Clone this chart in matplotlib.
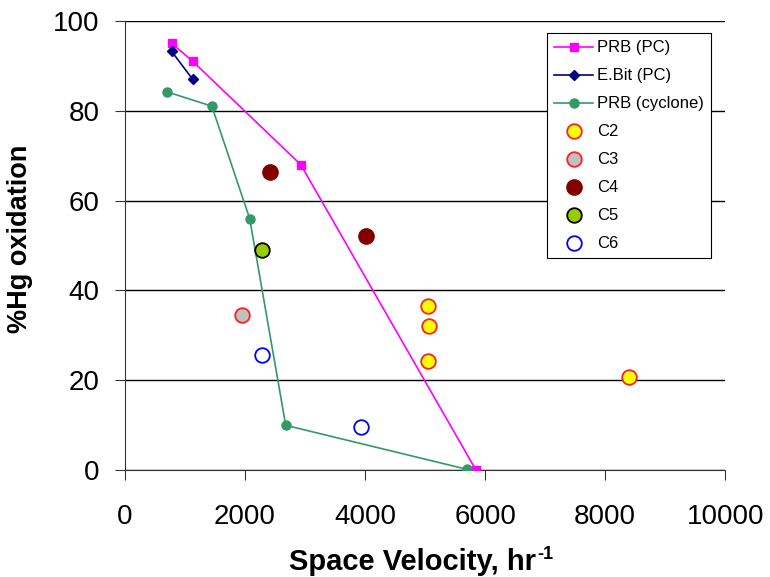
import numpy as np
import matplotlib.pyplot as plt

plt.rcParams['font.family'] = ['Liberation Sans', 'DejaVu Sans']

# PRB (PC)
prb_pc_x = [780, 1130, 2930, 5850]
prb_pc_y = [95, 91, 68, 0]
# E.Bit (PC)
ebit_x = [780, 1130]
ebit_y = [93.2, 87]
# PRB (cyclone)
cyc_x = [700, 1450, 2080, 2680, 5700]
cyc_y = [84.2, 81, 56, 10, 0.2]
# catalyst points
c2_x = [5050, 5070, 5050, 8400]
c2_y = [36.5, 32.2, 24.4, 20.7]
c3_x = [1950]
c3_y = [34.6]
c4_x = [2420, 4020]
c4_y = [66.3, 52.1]
c5_x = [2280]
c5_y = [49]
c6_x = [2280, 3930]
c6_y = [25.7, 9.7]

fig = plt.figure(figsize=(7.7, 5.77), dpi=100)
ax = fig.add_axes([0.162, 0.185, 0.780, 0.779])

ax.plot(prb_pc_x, prb_pc_y, color='#ff00ff', marker='s', markersize=6.3, lw=1.2, label='PRB (PC)', zorder=3)
ax.plot(ebit_x, ebit_y, color='#000080', marker='D', markersize=5, lw=1.2, label='E.Bit (PC)', zorder=3)
ax.plot(cyc_x, cyc_y, color='#339966', marker='o', markersize=6.5, lw=1.2, label='PRB (cyclone)', zorder=3)
ax.plot(c2_x, c2_y, ls='none', marker='o', markersize=10.5, mfc='#ffff00', mec='#ff2020', mew=1.3, label='C2', zorder=4)
ax.plot(c3_x, c3_y, ls='none', marker='o', markersize=10.5, mfc='#c0c0c0', mec='#ff2020', mew=1.3, label='C3', zorder=4)
ax.plot(c4_x, c4_y, ls='none', marker='o', markersize=11, mfc='#800000', mec='#800000', label='C4', zorder=4)
ax.plot(c5_x, c5_y, ls='none', marker='o', markersize=10.5, mfc='#99cc00', mec='#000000', mew=1.3, label='C5', zorder=4)
ax.plot(c6_x, c6_y, ls='none', marker='o', markersize=10.5, mfc='white', mec='#0000ff', mew=1.3, label='C6', zorder=4)

ax.set_xlim(0, 10000)
ax.set_ylim(0, 100)
ax.set_xticks(np.arange(0, 10001, 2000))
ax.set_yticks(np.arange(0, 101, 20))
ax.yaxis.grid(True, color='black', lw=1)
ax.set_axisbelow(True)
for s in ['top', 'right']:
    ax.spines[s].set_visible(False)
ax.spines['left'].set_color('#333333')
ax.spines['bottom'].set_color('#333333')
ax.tick_params(direction='out', labelsize=20, length=7, color='#333333')
ax.tick_params(axis='x', pad=17)
ax.tick_params(axis='y', pad=11)

# axis titles, superscript as its own small text like the original
xlab = ax.set_xlabel('Space Velocity, hr', fontsize=21, fontweight='bold')
ax.set_ylabel('%Hg oxidation', fontsize=19.5, fontweight='bold')
ax.xaxis.set_label_coords(0.479, -0.172)
ax.yaxis.set_label_coords(-0.153, 0.514)
ax.annotate('-1', xy=(1, 1), xycoords=xlab, xytext=(1, 1), textcoords='offset points',
            ha='left', va='top', fontsize=13, fontweight='bold')

leg = ax.legend(loc='upper left', bbox_to_anchor=(0.703, 0.972), fontsize=12,
                frameon=True, fancybox=False, edgecolor='black', framealpha=1,
                borderaxespad=0, handlelength=2.35, handletextpad=0.25,
                labelspacing=0.78, borderpad=0.42)
leg.get_frame().set_linewidth(0.8)

fig.savefig('out.png', dpi=100)
